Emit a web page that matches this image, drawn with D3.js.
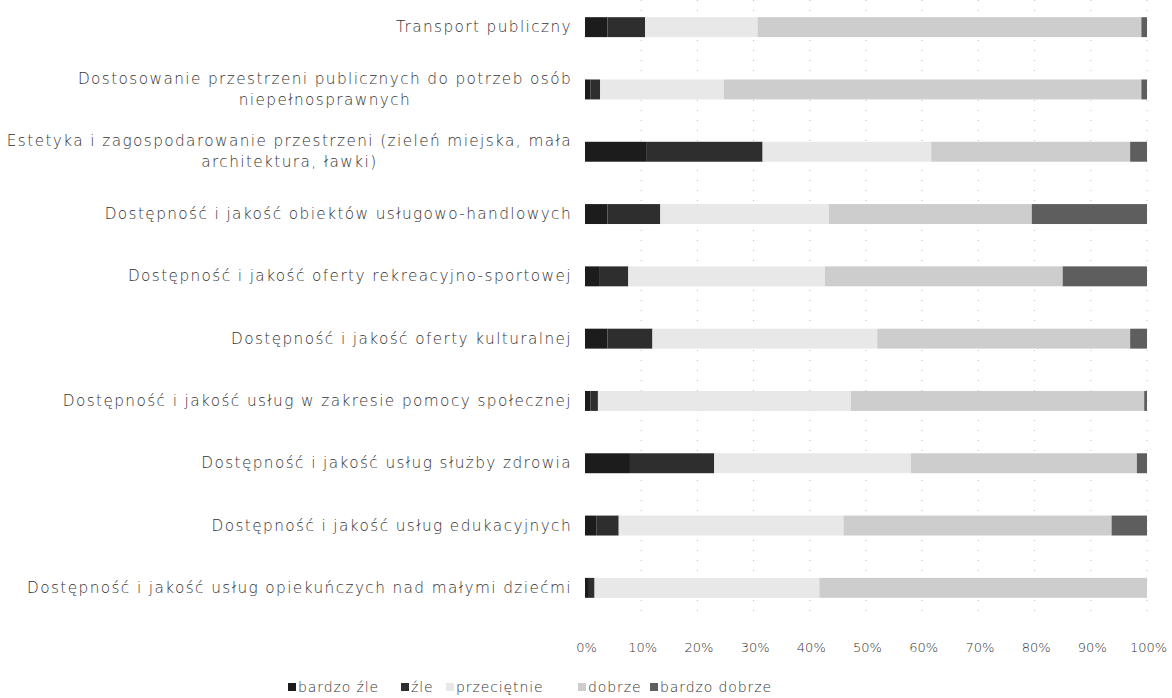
<!DOCTYPE html>
<html><head><meta charset="utf-8">
<script src="https://cdn.jsdelivr.net/npm/d3@7"></script>
<style>
body{margin:0;background:#fff;}
text{font-family:"DejaVu Sans","Noto Sans",sans-serif;fill:#333;font-weight:200;}
</style></head>
<body><svg id="c" width="1172" height="698"></svg>
<script>
const categories = [
  "Transport publiczny",
  "Dostosowanie przestrzeni publicznych do potrzeb osób|niepełnosprawnych",
  "Estetyka i zagospodarowanie przestrzeni (zieleń miejska, mała|architektura, ławki)",
  "Dostępność i jakość obiektów usługowo-handlowych",
  "Dostępność i jakość oferty rekreacyjno-sportowej",
  "Dostępność i jakość oferty kulturalnej",
  "Dostępność i jakość usług w zakresie pomocy społecznej",
  "Dostępność i jakość usług służby zdrowia",
  "Dostępność i jakość usług edukacyjnych",
  "Dostępność i jakość usług opiekuńczych nad małymi dziećmi"
];
const seriesNames = ["bardzo źle","źle","przeciętnie","dobrze","bardzo dobrze"];
const bardzoZle   = [4, 1, 11, 4, 2.5, 4, 1, 8, 2, 0.7];
const zle         = [6.7, 1.7, 20.6, 9.4, 5.2, 8, 1.3, 15, 4, 1];
const przecietnie = [20, 22, 30, 30, 35, 40, 45, 35, 40, 40];
const dobrze      = [68.3, 74.3, 35.4, 36.1, 42.3, 45, 52.2, 40.2, 47.7, 58.3];
const bardzoDobrze= [1, 1, 3, 20.5, 15, 3, 0.5, 1.8, 6.3, 0];
const tickLabels = ["0%","10%","20%","30%","40%","50%","60%","70%","80%","90%","100%"];
const colors = ["#1c1c1c","#2e2e2e","#e8e8e8","#cdcdcd","#5e5e5e"];

const svg = d3.select("#c");
const rows = categories.map((c,i)=>({cat:c, "bardzo źle":bardzoZle[i], "źle":zle[i], "przeciętnie":przecietnie[i], "dobrze":dobrze[i], "bardzo dobrze":bardzoDobrze[i]}));
const stack = d3.stack().keys(seriesNames)(rows);

const x = d3.scaleLinear().domain([0,100]).range([585,1147]);
const y = d3.scaleBand().domain(categories).range([-4,619]).paddingInner(0.68).paddingOuter(0.34);

// grid
svg.append("g").selectAll("line").data(d3.range(10,101,10)).join("line")
  .attr("x1",d=>x(d)).attr("x2",d=>x(d)).attr("y1",0).attr("y2",619)
  .attr("stroke","#bbb").attr("stroke-width",1).attr("stroke-dasharray","1,9");

svg.append("g").selectAll("g").data(stack).join("g")
  .attr("fill",(d,i)=>colors[i])
  .selectAll("rect").data(d=>d).join("rect")
  .attr("x",d=>x(d[0])).attr("width",d=>Math.max(0,x(d[1])-x(d[0])))
  .attr("y",d=>y(d.data.cat)).attr("height",y.bandwidth());

// category labels
const lab = svg.append("g");
const fs = 15.3, ls = 1.4, rightX = 572;
categories.forEach(c=>{
  const lines = c.split("|");
  const cy = y(c)+y.bandwidth()/2;
  const lh = 21;
  if(lines.length===1){
    lab.append("text").attr("text-anchor","end").attr("font-size",fs).attr("letter-spacing",ls)
      .attr("x",rightX).attr("y",cy+5).text(lines[0]);
  } else {
    const first = lab.append("text").attr("text-anchor","end").attr("font-size",fs).attr("letter-spacing",ls)
      .attr("x",rightX).attr("y",cy+5-lh/2).text(lines[0]);
    let w = first.node().getComputedTextLength();
    if (w > rightX - 2) { first.attr("textLength", rightX - 2).attr("lengthAdjust","spacing"); w = rightX - 2; }
    const mid = rightX - w/2;
    lines.slice(1).forEach((l,j)=>{
      lab.append("text").attr("text-anchor","middle").attr("font-size",fs).attr("letter-spacing",ls)
        .attr("x",mid).attr("y",cy+5-lh/2+(j+1)*lh).text(l);
    });
  }
});

// x axis labels
const xa = d3.axisBottom(x).tickValues(d3.range(0,101,10)).tickFormat((d,i)=>tickLabels[i]).tickSize(0);
const gx = svg.append("g").attr("transform","translate(0,640)").call(xa);
gx.select(".domain").remove();
gx.selectAll("text").attr("font-size",13).attr("font-family","'DejaVu Sans', sans-serif").attr("fill","#333").attr("dx",1);

// legend
const legX = [288, 401, 446, 578, 650];
const lg = svg.append("g").attr("transform","translate(0,692)");
seriesNames.forEach((s,i)=>{
  const g = lg.append("g").attr("transform",`translate(${legX[i]},0)`);
  g.append("rect").attr("x",0).attr("y",-9).attr("width",8).attr("height",8).attr("fill",colors[i]);
  g.append("text").attr("x",10).attr("y",0).attr("font-size",14).attr("letter-spacing",0.9).text(s);
});
</script></body></html>
